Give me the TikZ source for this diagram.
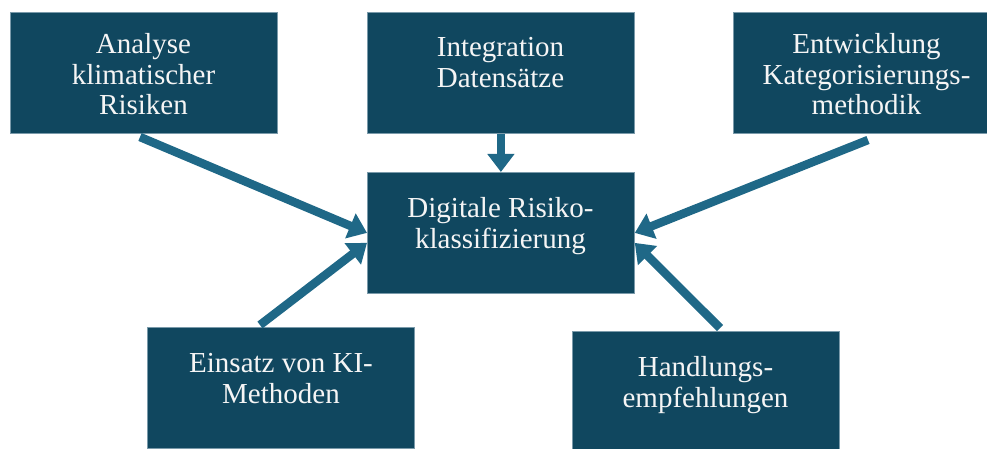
\documentclass[tikz,border=0pt]{standalone}
\usepackage{fontspec}
\setmainfont[Ligatures=NoCommon]{Liberation Serif}
\usetikzlibrary{arrows.meta}
\definecolor{boxfill}{HTML}{10475F}
\definecolor{boxedge}{HTML}{7A9AAA}
\definecolor{arrowblue}{HTML}{1F6887}
\begin{document}
\begin{tikzpicture}[x=1pt,y=-1pt,
  box/.style={draw=boxedge, line width=0.8pt, fill=boxfill,
    minimum width=267pt, minimum height=121pt, inner sep=0pt, anchor=north west},
  boxtext/.style={text=white!96!black, font=\fontsize{29}{30.5}\selectfont,
    align=center, inner sep=0pt, anchor=north},
  arr/.style={draw=arrowblue, line width=8.5pt,
    -{Triangle[length=18pt,width=26pt]}}]
  \useasboundingbox (0,0) rectangle (987,449);
  \clip (0,0) rectangle (987,449);

  % boxes
  \node[box] (tl) at (10,12) {};
  \node[box] (tm) at (367,12) {};
  \node[box] (tr) at (733,12) {};
  \node[box] (c)  at (367,172) {};
  \node[box] (bl) at (147,327) {};
  \node[box] (br) at (572,331) {};

  % box labels
  \node[boxtext] (tlt) at (143.5,33.5) {Analyse\\klimatischer\\Risiken};
  \node[boxtext] (tmt) at (500.5,37.5) {Integration\\Datensätze};
  \node[boxtext] (trt) at (866.5,33.5) {Entwicklung\\Kategorisierungs-\\methodik};
  \node[boxtext] (ct)  at (500.5,197.5) {Digitale Risiko-\\klassifizierung};
  \node[boxtext] (blt) at (281,353.5) {Einsatz von KI-\\Methoden};
  \node[boxtext] (brt) at (705.5,356.5) {Handlungs-\\empfehlungen};

  % arrow tails
  \coordinate (s1) at (140,137);
  \coordinate (s2) at (260,325);
  \coordinate (s3) at (868,140);
  \coordinate (s4) at (720,328);

  % arrows into the central box
  \draw[arr] (s1) -- (c.west);
  \draw[arr] (s2) -- ([yshift=-10pt]c.west);
  \draw[arr] (s3) -- (c.east);
  \draw[arr] (s4) -- ([yshift=-10pt]c.east);
  \draw[arr] (tm.south) -- (c.north);
\end{tikzpicture}
\end{document}
